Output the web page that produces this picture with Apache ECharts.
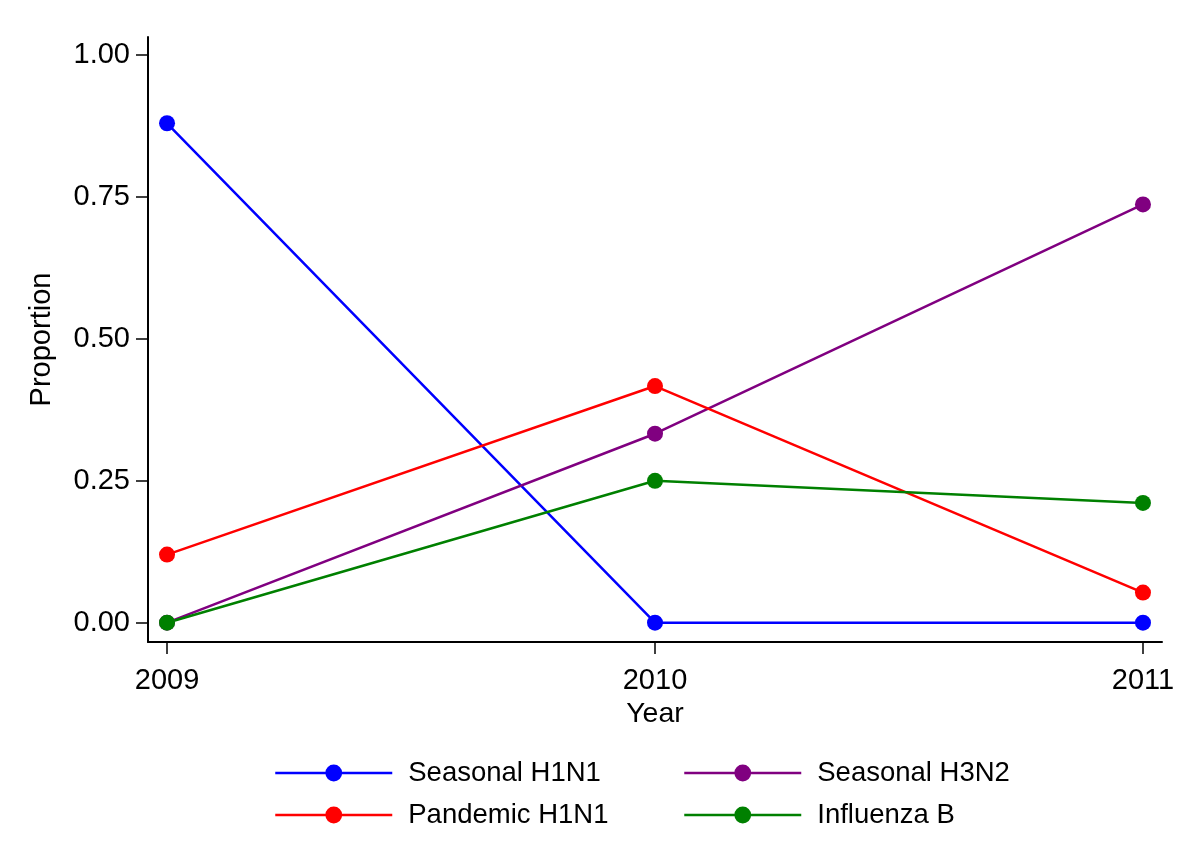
<!DOCTYPE html>
<html>
<head>
<meta charset="utf-8">
<script src="https://cdn.jsdelivr.net/npm/echarts@6/dist/echarts.min.js"></script>
<style>
  html, body { margin: 0; padding: 0; background: #fff; }
  #chart { width: 1200px; height: 859px; }
</style>
</head>
<body>
<div id="chart"></div>
<script>
// years on the x axis
const years = [2009, 2010, 2011]
const yTicks = [0, 0.25, 0.5, 0.75, 1]

// proportion per subtype
const seasonalH1N1 = [0.88, 0, 0]
const seasonalH3N2 = [0, 0.333, 0.737]
const pandemicH1N1 = [0.12, 0.417, 0.053]
const influenzaB = [0, 0.25, 0.211]

const FONT = 'Liberation Sans, Arial, sans-serif'

const pairs = vals => years.map((y, i) => [y, vals[i]])

const mkSeries = (name, vals, color) => ({
  name,
  type: 'line',
  data: pairs(vals),
  symbol: 'circle',
  symbolSize: 16,
  lineStyle: { color, width: 2.5 },
  itemStyle: { color },
  emphasis: { disabled: true },
  animation: false,
})

const legendBase = {
  orient: 'vertical',
  itemWidth: 117,
  itemHeight: 21,
  itemGap: 14,
  lineStyle: { width: 2.5 },
  textStyle: { fontFamily: FONT, fontSize: 27.5, color: '#000', padding: [0, 0, 0, 11] },
}

const chart = echarts.init(document.getElementById('chart'))
chart.setOption({
  backgroundColor: '#fff',
  grid: { left: 148, right: 38, top: 37, bottom: 217 },
  legend: [
    Object.assign({}, legendBase, { left: 269, top: 754, data: ['Seasonal H1N1', 'Pandemic H1N1'] }),
    Object.assign({}, legendBase, { left: 678, top: 754, data: ['Seasonal H3N2', 'Influenza B'] }),
  ],
  xAxis: {
    type: 'value',
    min: 2008.961,
    max: 2011.039,
    name: 'Year',
    nameLocation: 'middle',
    nameGap: 54,
    nameTextStyle: { fontFamily: FONT, fontSize: 28.5, color: '#000' },
    splitLine: { show: false },
    axisLine: { onZero: false, lineStyle: { color: '#000', width: 2 } },
    axisTick: { customValues: years, length: 12, lineStyle: { color: '#000', width: 1.5 } },
    axisLabel: {
      customValues: years,
      margin: 24,
      fontFamily: FONT,
      fontSize: 29,
      color: '#000',
      formatter: v => String(v),
    },
  },
  yAxis: {
    type: 'value',
    min: -0.034,
    max: 1.032,
    name: 'Proportion',
    nameLocation: 'middle',
    nameRotate: 90,
    nameGap: 92,
    nameTextStyle: { fontFamily: FONT, fontSize: 29, color: '#000' },
    splitLine: { show: false },
    axisLine: { show: true, onZero: false, lineStyle: { color: '#000', width: 2 } },
    axisTick: { show: true, customValues: yTicks, length: 12, lineStyle: { color: '#000', width: 1.5 } },
    axisLabel: {
      customValues: yTicks,
      margin: 18,
      fontFamily: FONT,
      fontSize: 29,
      color: '#000',
      formatter: v => v.toFixed(2),
    },
  },
  series: [
    mkSeries('Seasonal H1N1', seasonalH1N1, '#0000ff'),
    mkSeries('Seasonal H3N2', seasonalH3N2, '#800080'),
    mkSeries('Pandemic H1N1', pandemicH1N1, '#ff0000'),
    mkSeries('Influenza B', influenzaB, '#008000'),
  ],
})
</script>
</body>
</html>
